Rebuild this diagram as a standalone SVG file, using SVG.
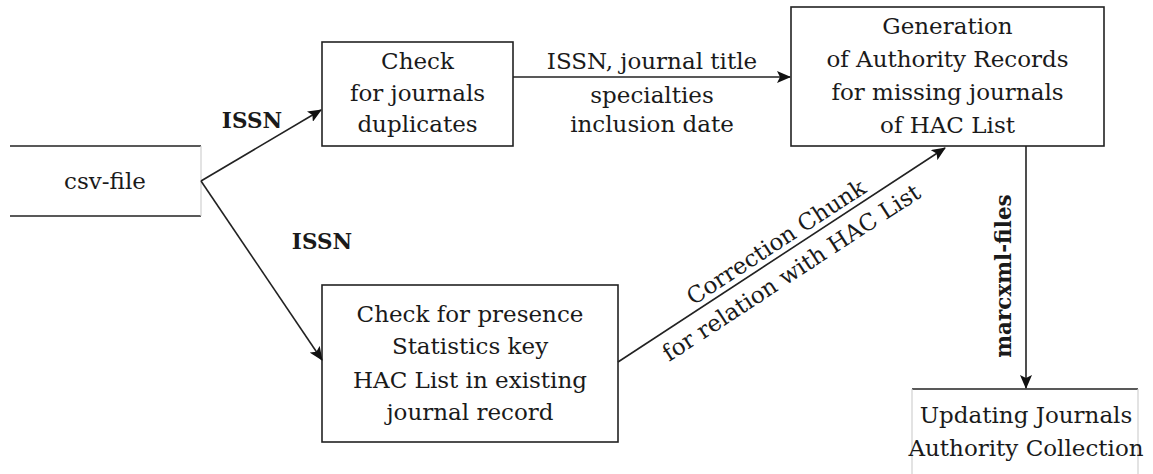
<svg xmlns="http://www.w3.org/2000/svg" width="1153" height="474" viewBox="0 0 1153 474">
<style>
text{font-family:"DejaVu Serif","Liberation Serif",serif;fill:#1a1a1a;font-size:23px;text-anchor:middle}
.b{font-weight:bold;font-size:21.5px}
.box{fill:#fff;stroke:#222;stroke-width:1.6}
.edge{fill:none;stroke:#222;stroke-width:1.6}
.faint{stroke:#d0d0d0;stroke-width:1.2;fill:none}
.conn{fill:none;stroke:#222;stroke-width:1.6;marker-end:url(#ah)}
</style>
<defs>
<marker id="ah" markerUnits="userSpaceOnUse" markerWidth="14" markerHeight="12" refX="13" refY="6" orient="auto">
<path d="M0,0 L14,6 L0,12 L3,6 z" fill="#111"/>
</marker>
</defs>
<g id="csv">
<line class="edge" x1="10" y1="146" x2="201" y2="146"/>
<line class="edge" x1="10" y1="216" x2="201" y2="216"/>
<line class="faint" x1="201" y1="146" x2="201" y2="216"/>
<text x="105" y="189">csv-file</text>
</g>
<g id="check-dup">
<rect class="box" x="322" y="42" width="191" height="104"/>
<text x="417.5" y="69">Check</text>
<text x="417.5" y="101">for journals</text>
<text x="417.5" y="132">duplicates</text>
</g>
<g id="generation">
<rect class="box" x="791" y="7" width="313" height="139"/>
<text x="947.5" y="34">Generation</text>
<text x="947.5" y="67">of Authority Records</text>
<text x="947.5" y="100">for missing journals</text>
<text x="947.5" y="133">of HAC List</text>
</g>
<g id="check-presence">
<rect class="box" x="322" y="285" width="296" height="157"/>
<text x="470" y="322">Check for presence</text>
<text x="470" y="354">Statistics key</text>
<text x="470" y="388">HAC List in existing</text>
<text x="470" y="420">journal record</text>
</g>
<g id="updating">
<line class="edge" x1="912" y1="389" x2="1138" y2="389"/>
<line class="faint" x1="912" y1="389" x2="912" y2="474"/>
<line class="faint" x1="1138" y1="389" x2="1138" y2="474"/>
<text x="1026" y="423">Updating Journals</text>
<text x="1026" y="456">Authority Collection</text>
</g>
<g id="connectors">
<line class="conn" x1="201" y1="181" x2="321" y2="110"/>
<line class="conn" x1="201" y1="181" x2="322" y2="360"/>
<line class="conn" x1="513" y1="77" x2="790" y2="77"/>
<line class="conn" x1="618" y1="362" x2="945" y2="148"/>
<line class="conn" x1="1026" y1="146" x2="1026" y2="388"/>
<text class="b" x="252" y="128">ISSN</text>
<text class="b" x="322" y="249">ISSN</text>
<text x="652" y="69">ISSN, journal title</text>
<text x="652" y="103">specialties</text>
<text x="652" y="132">inclusion date</text>
<g transform="translate(618,362) rotate(-33.2)">
<text x="198" y="-6">Correction Chunk</text>
<text x="194" y="28">for relation with HAC List</text>
</g>
<text class="b" transform="translate(1011,276) rotate(-90)" x="0" y="0">marcxml-files</text>
</g>
</svg>
